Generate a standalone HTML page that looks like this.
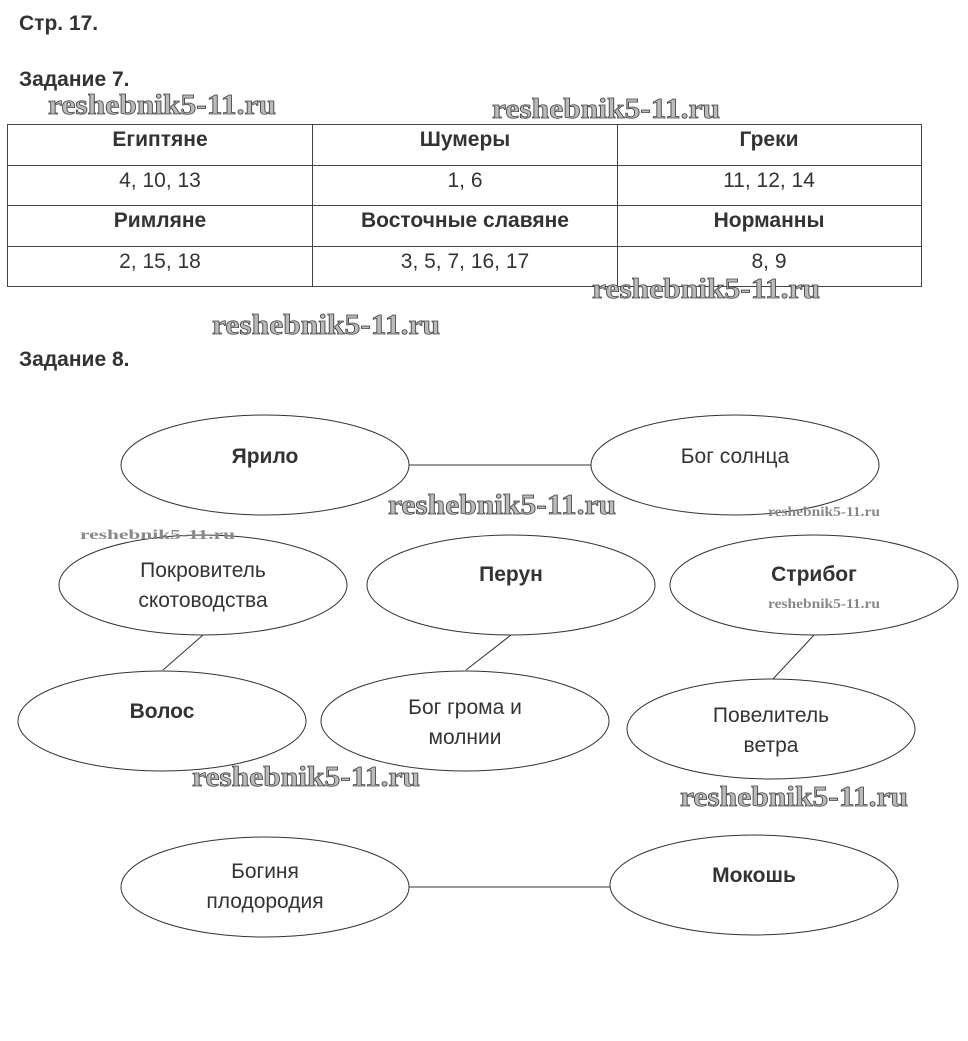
<!DOCTYPE html>
<html><head><meta charset="utf-8"><style>
html,body{margin:0;padding:0;background:#fff;width:968px;height:1041px;overflow:hidden}
svg{display:block}
.t{font-family:"Liberation Sans",sans-serif;fill:#333;font-size:21px}
.b{font-weight:bold}
.w{font-family:"Liberation Serif",serif;font-weight:bold;fill:#bbb;stroke:#444;stroke-width:0.8;font-size:28px}
.ws{font-family:"Liberation Serif",serif;font-weight:bold;fill:#888;font-size:14px}
</style></head><body>
<svg width="968" height="1041" xmlns="http://www.w3.org/2000/svg">
<text class="t b" x="19" y="30" font-size="20.5">Стр. 17.</text>
<text class="t b" x="19" y="86" font-size="20.5">Задание 7.</text>
<g fill="none" stroke="#444" stroke-width="1">
<rect x="7.5" y="124.5" width="914" height="162"/>
<line x1="7" y1="165.5" x2="921" y2="165.5"/>
<line x1="7" y1="205.5" x2="921" y2="205.5"/>
<line x1="7" y1="246.5" x2="921" y2="246.5"/>
<line x1="312.5" y1="124" x2="312.5" y2="286"/>
<line x1="617.5" y1="124" x2="617.5" y2="286"/>
</g>
<g class="t" text-anchor="middle">
<text class="b" x="160" y="146">Египтяне</text>
<text class="b" x="465" y="146">Шумеры</text>
<text class="b" x="769" y="146">Греки</text>
<text x="160" y="187">4, 10, 13</text>
<text x="465" y="187">1, 6</text>
<text x="769" y="187">11, 12, 14</text>
<text class="b" x="160" y="227">Римляне</text>
<text class="b" x="465" y="227">Восточные славяне</text>
<text class="b" x="769" y="227">Норманны</text>
<text x="160" y="268">2, 15, 18</text>
<text x="465" y="268">3, 5, 7, 16, 17</text>
<text x="769" y="268">8, 9</text>
</g>
<text class="t b" x="19" y="366" font-size="20.5">Задание 8.</text>
<g fill="none" stroke="#333" stroke-width="1">
<ellipse cx="265" cy="465" rx="144" ry="50"/>
<ellipse cx="735" cy="465" rx="144" ry="50"/>
<line x1="409" y1="465" x2="591" y2="465"/>
<ellipse cx="203" cy="585" rx="144" ry="50"/>
<ellipse cx="511" cy="585" rx="144" ry="50"/>
<ellipse cx="814" cy="585" rx="144" ry="50"/>
<ellipse cx="162" cy="721" rx="144" ry="50"/>
<ellipse cx="465" cy="721" rx="144" ry="50"/>
<ellipse cx="771" cy="729" rx="144" ry="50"/>
<ellipse cx="265" cy="887" rx="144" ry="50"/>
<ellipse cx="754" cy="885" rx="144" ry="50"/>
<line x1="409" y1="887" x2="610" y2="887"/>
<line x1="163" y1="670" x2="203" y2="635"/>
<line x1="466" y1="670" x2="511" y2="635"/>
<line x1="773" y1="679" x2="814" y2="635"/>
</g>
<g class="t" text-anchor="middle">
<text class="b" x="265" y="463">Ярило</text>
<text x="735" y="463">Бог солнца</text>
<text x="203" y="577">Покровитель</text>
<text x="203" y="607">скотоводства</text>
<text class="b" x="511" y="581">Перун</text>
<text class="b" x="814" y="581">Стрибог</text>
<text class="b" x="162" y="718">Волос</text>
<text x="465" y="714">Бог грома и</text>
<text x="465" y="744">молнии</text>
<text x="771" y="722">Повелитель</text>
<text x="771" y="752">ветра</text>
<text x="265" y="878">Богиня</text>
<text x="265" y="908">плодородия</text>
<text class="b" x="754" y="882">Мокошь</text>
</g>
<g class="w">
<text x="48" y="114" textLength="228" lengthAdjust="spacingAndGlyphs">reshebnik5-11.ru</text>
<text x="492" y="118" textLength="228" lengthAdjust="spacingAndGlyphs">reshebnik5-11.ru</text>
<text x="592" y="298" textLength="228" lengthAdjust="spacingAndGlyphs">reshebnik5-11.ru</text>
<text x="212" y="334" textLength="228" lengthAdjust="spacingAndGlyphs">reshebnik5-11.ru</text>
<text x="388" y="514" textLength="228" lengthAdjust="spacingAndGlyphs">reshebnik5-11.ru</text>
<text x="192" y="786" textLength="228" lengthAdjust="spacingAndGlyphs">reshebnik5-11.ru</text>
<text x="680" y="806" textLength="228" lengthAdjust="spacingAndGlyphs">reshebnik5-11.ru</text>
</g>
<g class="ws">
<text x="80" y="539" textLength="155" lengthAdjust="spacingAndGlyphs">reshebnik5-11.ru</text>
<text x="768" y="516" textLength="112" lengthAdjust="spacingAndGlyphs">reshebnik5-11.ru</text>
<text x="768" y="608" textLength="112" lengthAdjust="spacingAndGlyphs">reshebnik5-11.ru</text>
</g>
</svg>
</body></html>
